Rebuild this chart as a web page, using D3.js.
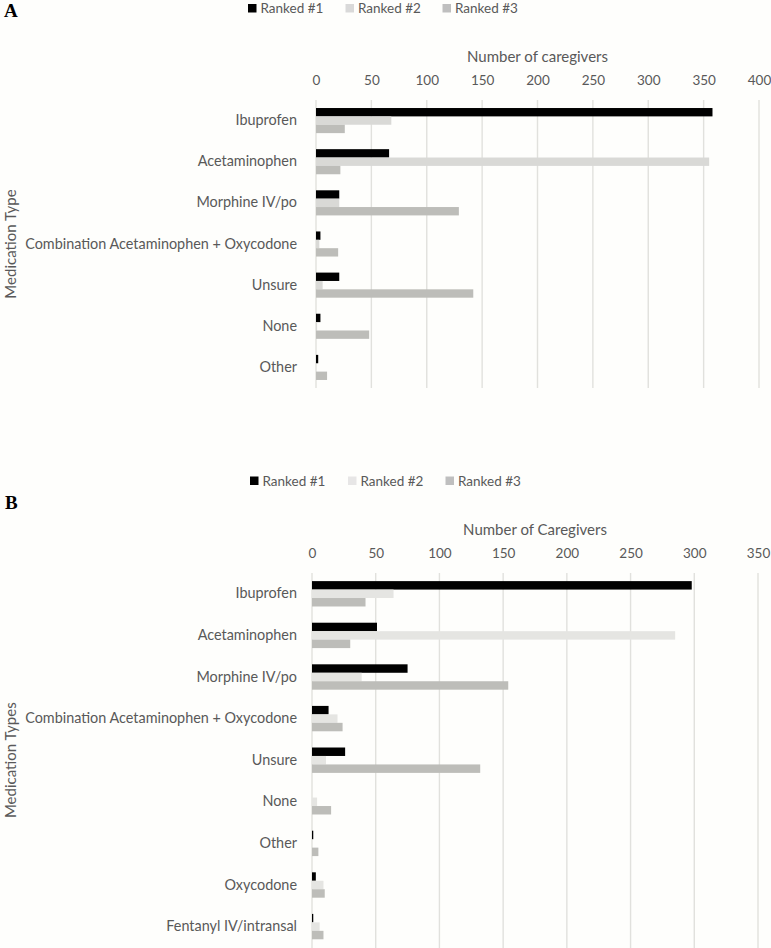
<!DOCTYPE html>
<html><head><meta charset="utf-8">
<script src="https://cdn.jsdelivr.net/npm/d3@7/dist/d3.min.js"></script>
<style>
body{margin:0;background:#fefefc}
svg{display:block}
text{font-family:Lato,"Open Sans",sans-serif}
</style>
</head><body>
<svg id="chart" width="771" height="948"></svg>
<script>
// ---------- data ----------
const seriesNames = ["Ranked #1", "Ranked #2", "Ranked #3"];

const categoriesA = ["Ibuprofen", "Acetaminophen", "Morphine IV/po",
  "Combination Acetaminophen + Oxycodone", "Unsure", "None", "Other"];
const rank1A = [358, 66, 21, 4, 21, 4, 2];
const rank2A = [68, 355, 21, 3, 6, 1, 0];
const rank3A = [26, 22, 129, 20, 142, 48, 10];
const ticksA = [0, 50, 100, 150, 200, 250, 300, 350, 400];

const categoriesB = ["Ibuprofen", "Acetaminophen", "Morphine IV/po",
  "Combination Acetaminophen + Oxycodone", "Unsure", "None", "Other",
  "Oxycodone", "Fentanyl IV/intransal"];
const rank1B = [298, 51, 75, 13, 26, 0, 1, 3, 1];
const rank2B = [64, 285, 39, 20, 11, 4, 0, 9, 6];
const rank3B = [42, 30, 154, 24, 132, 15, 5, 10, 9];
const ticksB = [0, 50, 100, 150, 200, 250, 300, 350];

// ---------- drawing ----------
const svg = d3.select("#chart");
const textColor = "#595959";
const gridColor = "#e1e1dd";

function panel(o) {
  const g = svg.append("g");
  const x = d3.scaleLinear().domain([o.ticks[0], o.ticks[o.ticks.length - 1]]).range([o.x0, o.x1]);
  const y = d3.scaleBand().domain(o.categories).range([o.yTop, o.yBottom])
    .paddingInner(0.39).paddingOuter(0.195);
  const ys = d3.scaleBand().domain(seriesNames).range([0, y.bandwidth()]);
  const colors = d3.scaleOrdinal().domain(seriesNames).range(o.colors);

  // panel letter
  g.append("text").attr("x", o.letterX).attr("y", o.letterY)
    .attr("font-weight", "bold").attr("font-size", 19).attr("fill", "#000")
    .style("font-family", "'Liberation Serif',serif")
    .text(o.letter);

  // legend
  const lg = g.append("g");
  seriesNames.forEach((s, i) => {
    lg.append("rect").attr("x", o.legendX[i]).attr("y", o.legendY - 4.5)
      .attr("width", 8.5).attr("height", 8.5).attr("fill", o.legendColors[i]);
    lg.append("text").attr("x", o.legendX[i] + 12.5).attr("y", o.legendY)
      .attr("dy", "0.35em").attr("font-size", 13.5).attr("fill", textColor).text(s);
  });

  // axis title (top)
  g.append("text").attr("x", (o.x0 + o.x1) / 2).attr("y", o.titleY).attr("dy", "0.35em")
    .attr("text-anchor", "middle").attr("font-size", 15).attr("fill", textColor)
    .text(o.xTitle);

  // top axis with gridlines
  const axis = d3.axisTop(x).tickValues(o.ticks).tickSize(0).tickPadding(0);
  const ag = g.append("g").attr("transform", `translate(0,${o.tickY})`).call(axis);
  ag.select(".domain").remove();
  ag.selectAll("text").attr("font-size", 13.5).attr("fill", textColor)
    .attr("dy", "0.35em").style("font-family", "Lato,sans-serif");

  g.append("g").selectAll("line").data(o.ticks).join("line")
    .attr("x1", d => x(d)).attr("x2", d => x(d))
    .attr("y1", o.yTop).attr("y2", o.gridBottom)
    .attr("stroke", gridColor).attr("stroke-width", 1.4);

  // category labels
  const lab = d3.axisLeft(y).tickSize(0).tickPadding(0);
  const lgAx = g.append("g").attr("transform", `translate(${o.labelRight},0)`).call(lab);
  lgAx.select(".domain").remove();
  lgAx.selectAll("text").attr("font-size", 14.4).attr("fill", textColor)
    .style("font-family", "Lato,sans-serif");

  // y title
  g.append("text").attr("transform", `translate(${o.yTitleX},${(o.yTop + o.yBottom) / 2}) rotate(-90)`)
    .attr("text-anchor", "middle").attr("dy", "0.35em").attr("font-size", 15)
    .attr("fill", textColor).text(o.yTitle);

  // bars
  const rows = o.categories.map((c, i) => ({ c, vals: o.series.map((s, k) => ({ s: seriesNames[k], v: s[i] })) }));
  const grp = g.append("g").selectAll("g").data(rows).join("g")
    .attr("transform", d => `translate(0,${y(d.c)})`);
  grp.selectAll("rect").data(d => d.vals).join("rect")
    .attr("x", x(0)).attr("y", d => ys(d.s))
    .attr("width", d => x(d.v) - x(0)).attr("height", ys.bandwidth())
    .attr("fill", d => colors(d.s));
}

panel({
  letter: "A", letterX: 4, letterY: 17,
  categories: categoriesA, series: [rank1A, rank2A, rank3A], ticks: ticksA,
  x0: 316, x1: 759, yTop: 100, yBottom: 388, gridBottom: 388,
  legendY: 8.5, legendX: [248, 345.5, 442.5],
  legendColors: ["#000000", "#d9d9d9", "#bfbfbf"],
  colors: ["#000000", "#d9d9d6", "#bdbdb9"],
  titleY: 56.7, tickY: 80, xTitle: "Number of caregivers",
  labelRight: 297, yTitle: "Medication Type", yTitleX: 11
});

panel({
  letter: "B", letterX: 5, letterY: 509,
  categories: categoriesB, series: [rank1B, rank2B, rank3B], ticks: ticksB,
  x0: 312, x1: 758, yTop: 573, yBottom: 947.4, gridBottom: 948,
  legendY: 481, legendX: [250, 348, 445.5],
  legendColors: ["#000000", "#e7e6e6", "#bfbfbf"],
  colors: ["#000000", "#e5e5e2", "#bdbdb9"],
  titleY: 529.5, tickY: 553, xTitle: "Number of Caregivers",
  labelRight: 297, yTitle: "Medication Types", yTitleX: 11
});
</script>
</body></html>
